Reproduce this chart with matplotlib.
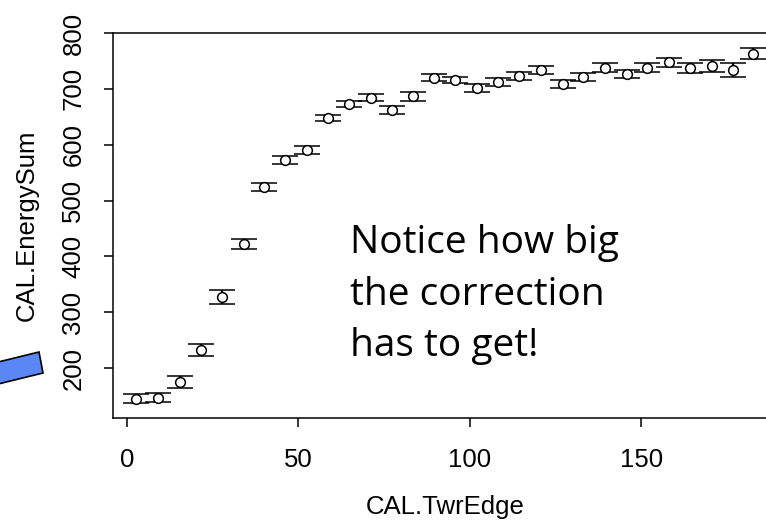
import matplotlib
matplotlib.use("Agg")
import matplotlib.pyplot as plt
from matplotlib.patches import Polygon

# mean CAL.EnergySum per CAL.TwrEdge bin, with its error
twr_edge = [2.6, 9.0, 15.5, 21.6, 27.7, 34.1, 40.0, 46.1, 52.5, 58.7,
            64.8, 71.2, 77.3, 83.5, 89.6, 95.7, 102.1, 108.3, 114.4, 120.8,
            127.2, 133.1, 139.5, 145.9, 151.7, 158.2, 164.3, 170.7, 176.8, 182.7]
energy_sum = [145, 147, 175, 232, 327, 423, 525, 573, 591, 648,
              673, 684, 662, 687, 720, 716, 702, 712, 723, 734,
              709, 721, 738, 727, 738, 748, 738, 741, 734, 763]
energy_err = [8, 8, 11, 11, 12, 9, 7, 7, 7, 6,
              6, 6, 7, 8, 6, 6, 7, 7, 7, 7,
              7, 7, 8, 7, 8, 8, 9, 10, 13, 10]

x_ticks = [0, 50, 100, 150]
y_ticks = [200, 300, 400, 500, 600, 700, 800]

note = "Notice how big\nthe correction\nhas to get!"

W, H = 766, 522
fig = plt.figure(figsize=(W / 100, H / 100), dpi=100)
ax = fig.add_axes([112.5 / W, 104 / H, 665 / W, 385 / H])

ax.errorbar(twr_edge, energy_sum, yerr=energy_err, fmt='o', color='black',
            ms=7, mfc='white', mec='black', mew=1.1,
            elinewidth=1.6, capsize=9.4, capthick=1.6)

ax.set_xlim(-4.2, 189.8)
ax.set_ylim(110.7, 800)
ax.set_xticks(x_ticks)
ax.set_yticks(y_ticks)

tick_font = dict(family='Liberation Sans', size=18.5)
ax.set_xticklabels([str(t) for t in x_ticks], fontdict=tick_font)
ax.set_yticklabels([str(t) for t in y_ticks], fontdict=tick_font,
                   rotation=90, va='center')
ax.tick_params(direction='out', length=6.5, width=1.1)
ax.tick_params(axis='x', pad=15)
ax.tick_params(axis='y', pad=13)

for side in ax.spines:
    ax.spines[side].set_linewidth(1.1)

ax.set_xlabel("CAL.TwrEdge", family='Liberation Sans', size=18.5, labelpad=17)
ax.set_ylabel("CAL.EnergySum", family='Liberation Sans', size=18.5, labelpad=16)

fig.text(350 / W, 1 - 224 / H, note, family='Open Sans', size=28,
         va='top', ha='left', linespacing=1.47)

# blue pointer coming in from the left edge
arrow = Polygon([(-10 / W, 1 - 364 / H), (39 / W, 1 - 352 / H),
                 (43 / W, 1 - 373 / H), (-10 / W, 1 - 386 / H)],
                closed=True, transform=fig.transFigure, facecolor='#5a87f5',
                edgecolor='black', linewidth=1.2, clip_on=False)
fig.patches.append(arrow)

fig.savefig("out.png", dpi=100)
